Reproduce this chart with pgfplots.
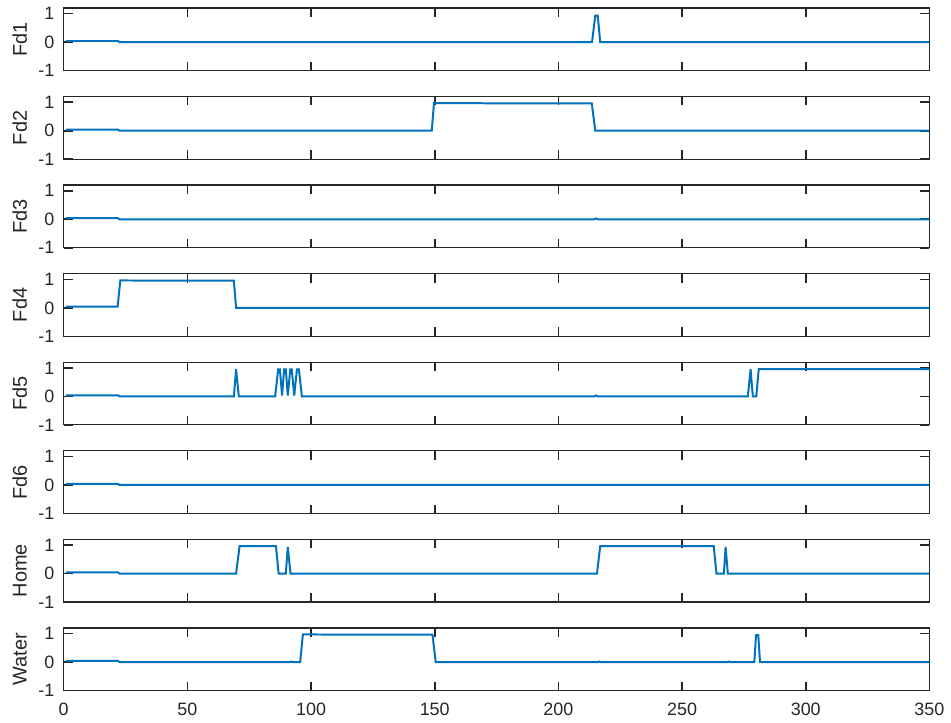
\documentclass[border=0pt]{standalone}
\usepackage{pgfplots}
\pgfplotsset{compat=1.18}
\usepackage{fontspec}
\setmainfont{Liberation Sans}
\definecolor{mblue}{rgb}{0,0.447,0.741}
\definecolor{maxis}{rgb}{0.15,0.15,0.15}
\pgfplotsset{
  sub/.style={
    scale only axis, width=435pt, height=31.5pt, anchor=south west,
    xmin=0, xmax=350, ymin=-1, ymax=1.2,
    xtick={0,50,...,350}, ytick={-1,0,1}, yticklabels={-1,0,1},
    xticklabels={},
    xtick pos=both, ytick pos=both,
    tick align=inside,
    major tick length=4.5pt,
    axis line style={maxis, line width=0.6pt},
    major tick style={draw=maxis, line width=0.8pt},
    tick label style={font=\fontsize{9}{10}\selectfont, text=maxis},
    yticklabel style={xshift=-1.2pt},
    xticklabel style={yshift=-2.5pt},
    ylabel style={at={(axis description cs:-0.0506,0.5)}, anchor=center, font=\fontsize{10}{11}\selectfont, text=maxis},
    cycle list={{mblue, mark=none}},
    every axis plot post/.append style={line width=1pt},
  }
}
\begin{document}
\begin{tikzpicture}
\path (0,0) rectangle (475.5pt,363pt);
% Fd1
\begin{axis}[sub, at={(32pt,327.5pt)}, ylabel={Fd1}]
\addplot coordinates {(1,0.04)(22,0.04)(22.5,0)(213.6,0)(214.9,0.93)(215.9,0.93)(216.9,0)(350,0)};
\end{axis}
% Fd2
\begin{axis}[sub, at={(32pt,283pt)}, ylabel={Fd2}]
\addplot coordinates {(1,0.04)(22,0.04)(22.5,0)(148.8,0)(149.7,0.97)(180,0.96)(213.5,0.955)(214.9,0)(350,0)};
\end{axis}
% Fd3
\begin{axis}[sub, at={(32pt,238.5pt)}, ylabel={Fd3}]
\addplot coordinates {(1,0.04)(22,0.04)(22.5,0)(214.5,0)(215.2,0.03)(216,0)(350,0)};
\end{axis}
% Fd4
\begin{axis}[sub, at={(32pt,194pt)}, ylabel={Fd4}]
\addplot coordinates {(1,0.04)(21.8,0.04)(22.9,0.96)(50,0.955)(68.8,0.955)(69.7,0)(350,0)};
\end{axis}
% Fd5
\begin{axis}[sub, at={(32pt,149.5pt)}, ylabel={Fd5}]
\addplot coordinates {(1,0.04)(22,0.04)(22.5,0)(68.8,0)(69.7,0.95)(70.8,0)(85.5,0)
(86.7,0.95)(87.4,0.95)(88.3,0.03)(89.1,0.95)(89.8,0.95)(90.6,0.03)(91.6,0.95)(92.2,0.95)(93.2,0.03)(94.3,0.95)(95.1,0.95)(96.3,0)
(214.5,0)(215.2,0.03)(216,0)(276.6,0)(277.7,0.95)(278.6,0)(280,0)(281,0.96)(350,0.96)};
\end{axis}
% Fd6
\begin{axis}[sub, at={(32pt,105pt)}, ylabel={Fd6}]
\addplot coordinates {(1,0.04)(22,0.04)(22.5,0)(350,0)};
\end{axis}
% Home
\begin{axis}[sub, at={(32pt,60.5pt)}, ylabel={Home}]
\addplot coordinates {(1,0.04)(22,0.04)(22.5,0)(69.7,0)(71.1,0.96)(85.8,0.96)(86.9,0)(89.8,0)(90.6,0.93)(91.7,0)
(215.6,0)(216.9,0.96)(262.8,0.96)(263.9,0)(266.9,0)(267.6,0.93)(268.5,0)(350,0)};
\end{axis}
% Water
\begin{axis}[sub, at={(32pt,16pt)}, ylabel={Water},
  xticklabels={0,50,100,150,200,250,300,350}]
\addplot coordinates {(1,0.04)(22,0.04)(22.5,0)(91.5,0)(92,0.02)(92.5,0)(95.6,0)(96.7,0.97)(120,0.965)(149.1,0.96)(150.4,0)
(216,0)(216.5,0.02)(217,0)(268.5,0)(269,0.02)(269.5,0)(279.2,0)(279.9,0.95)(280.8,0.95)(281.5,0)(350,0)};
\end{axis}
\end{tikzpicture}
\end{document}
